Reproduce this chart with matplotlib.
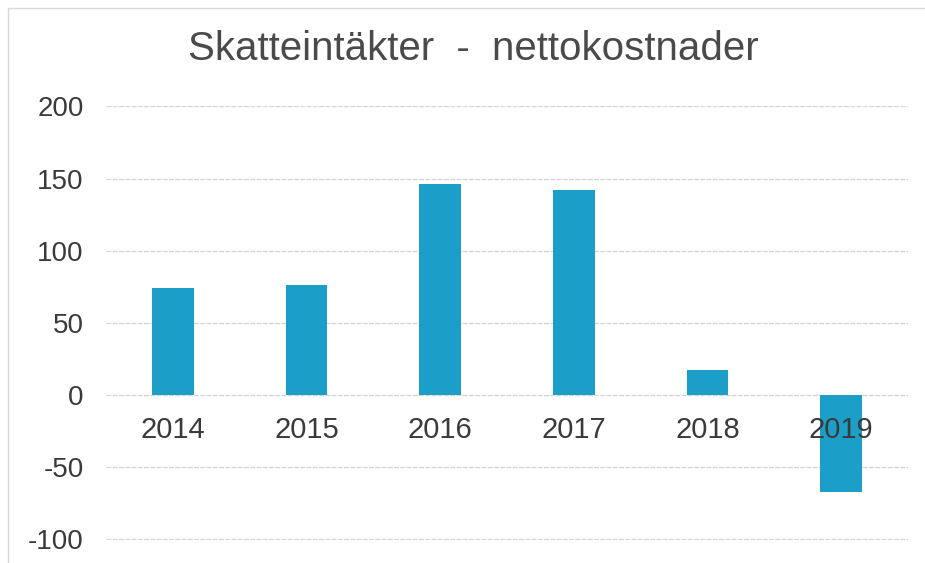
import matplotlib.pyplot as plt
from matplotlib.patches import Rectangle

years = ['2014', '2015', '2016', '2017', '2018', '2019']
values = [74, 76, 146, 142, 17, -67]
yticks = [-100, -50, 0, 50, 100, 150, 200]

plt.rcParams['font.family'] = ['Liberation Sans', 'DejaVu Sans']

fig = plt.figure(figsize=(9.25, 5.63), dpi=100)
ax = fig.add_axes([0.1146, 0.0400, 0.867, 0.771])

# ram från inskannad sida
fig.patches.append(Rectangle((8 / 925, -0.1), 1.1, 1 - 8 / 563 + 0.1,
                             transform=fig.transFigure, fill=False,
                             edgecolor='#d8d8d8', linewidth=1))

x = range(len(years))
ax.bar(x, values, width=0.31, color='#1b9fc8', zorder=2)

ax.set_ylim(-100.8, 200)
ax.set_xlim(-0.5, len(years) - 0.5)
ax.set_yticks(yticks)
ax.set_yticklabels([str(v) for v in yticks], fontsize=20, color='#3a3a3a')
ax.tick_params(axis='y', length=0, pad=16)
ax.set_xticks([])
ax.grid(axis='y', color='#d4d4d4', linewidth=0.9, linestyle=(0, (4, 1)))
ax.set_axisbelow(True)
for s in ax.spines.values():
    s.set_visible(False)

# årsetiketter direkt under nollinjen
for i, yr in enumerate(years):
    ax.annotate(yr, xy=(i, 0), xytext=(0, -15), textcoords='offset points',
                ha='center', va='top', fontsize=21, color='#3a3a3a', zorder=3)

fig.text(0.512, 0.913, 'Skatteintäkter  -  nettokostnader', ha='center',
         va='center', fontsize=29, color='#4a4a4a')

plt.savefig('out.png', dpi=100)
